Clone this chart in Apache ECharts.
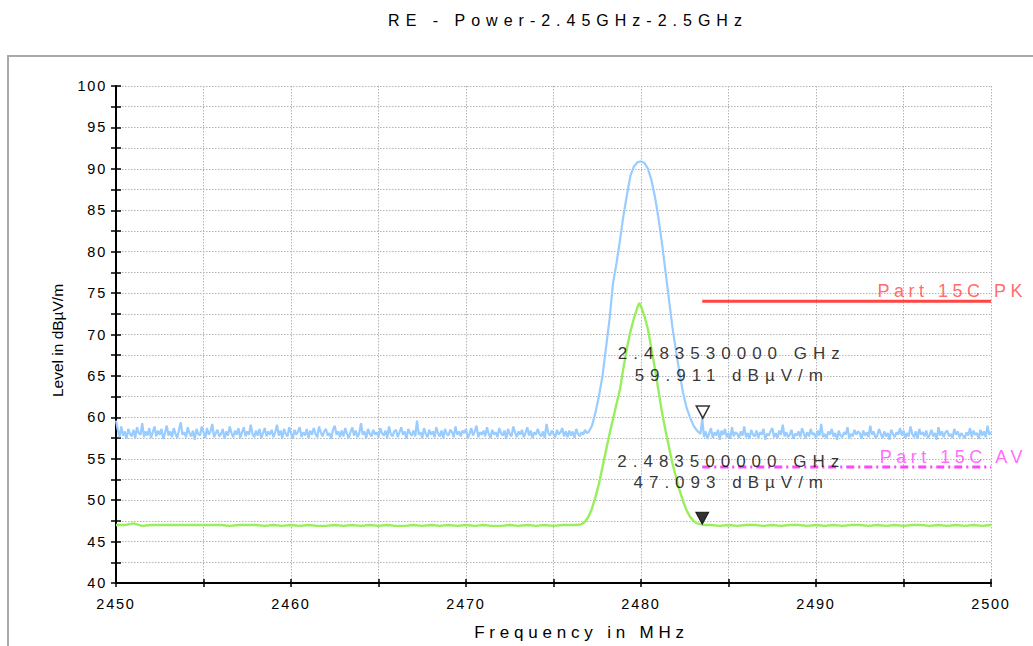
<!DOCTYPE html>
<html><head><meta charset="utf-8">
<script src="https://cdn.jsdelivr.net/npm/echarts@6/dist/echarts.min.js"></script>
<style>html,body{margin:0;padding:0;background:#fff}#chart{width:1033px;height:646px}</style>
</head><body><div id="chart"></div>
<script>
// ---------- texts ----------
const titleText = 'RE - Power-2.45GHz-2.5GHz';
const xName = 'Frequency in MHz';
const yName = 'Level in dBµV/m';
const pkLimitName = 'Part 15C PK';
const avLimitName = 'Part 15C AV';

// ---------- axes ----------
const xMin = 2450, xMax = 2500, xTick = 5, xLabelEvery = 10;
const yMin = 40, yMax = 100, yTick = 2.5, yLabelEvery = 5;

// ---------- peak trace (blue) ----------
const pkStep = 0.1;
const pkLeftStart = 2450.0;
const pkLeft = [
59.6,58.5,57.6,58.9,57.8,58.3,57.4,58.6,58.0,57.7,
58.5,57.5,58.8,58.1,57.9,59.3,57.6,58.3,57.8,58.7,
57.5,58.2,58.9,57.7,58.4,57.9,58.6,57.4,58.1,59.0,
57.8,58.3,57.6,58.7,58.0,57.5,58.5,59.4,57.9,58.2,
57.6,58.8,58.1,57.7,58.4,57.3,58.6,58.0,57.8,58.9,
58.2,57.5,58.7,57.9,58.3,59.2,57.6,58.1,58.5,57.7,
58.0,58.6,57.4,58.3,57.8,58.9,58.1,57.6,58.4,57.9,
58.7,57.5,58.2,58.8,57.7,58.3,57.9,59.1,58.0,57.6,
58.4,57.8,58.6,57.5,58.1,58.7,57.7,58.3,57.9,58.5,
57.6,58.2,59.1,57.8,58.4,57.5,58.6,58.0,57.7,58.8,
58.1,57.4,58.5,57.9,58.3,58.8,57.6,58.2,57.8,58.6,
57.5,58.4,57.9,58.7,58.0,57.6,58.9,58.2,57.7,58.3,
58.6,57.8,58.1,57.4,58.5,59.0,57.9,58.3,57.6,58.4,
57.7,58.7,58.0,57.5,58.2,58.8,57.8,58.4,57.6,58.1,
59.3,57.9,58.3,57.5,58.6,58.0,57.7,58.5,57.9,58.2,
57.6,58.7,58.1,57.8,58.4,57.5,58.9,58.0,57.7,58.3,
58.5,57.6,58.2,58.8,57.9,58.3,57.4,58.6,58.1,57.8,
58.4,57.7,59.6,57.9,58.2,57.5,58.7,58.0,57.6,58.5,
57.9,58.3,57.6,58.8,58.1,57.7,58.4,57.5,58.6,58.0,
57.8,58.5,58.2,57.6,58.9,57.9,58.3,57.7,58.4,58.1,
58.6,57.5,58.0,58.7,57.8,58.3,59.0,57.6,58.2,57.9,
58.4,57.7,58.8,58.0,57.5,58.5,57.9,58.2,57.6,58.7,
58.1,57.8,58.4,57.4,58.6,58.0,57.7,58.9,58.2,57.6,
58.3,57.9,58.5,57.6,58.1,58.8,57.8,58.4,57.5,58.2,
57.9,58.6,58.0,57.7,58.3,57.5,59.2,58.1,57.8,58.4,
58.0,57.6,58.5,57.9,58.2,58.7,57.7,58.3,57.6,58.4,
57.8,58.3,57.5,58.6,58.0,57.7,58.2,57.9,58.5,58.1
];
const pkBell = [
[2477.0,58.2],[2477.2,59.0],[2477.4,60.6],[2477.6,62.6],[2477.8,65.0],[2478.0,68.4],
[2478.2,71.8],[2478.4,76.2],[2478.6,78.6],[2478.8,81.4],[2479.0,84.4],[2479.2,86.9],
[2479.4,89.2],[2479.6,90.3],[2479.8,90.8],[2480.0,90.9],[2480.2,90.7],[2480.4,90.0],
[2480.6,88.6],[2480.8,86.6],[2481.0,84.0],[2481.2,81.0],[2481.4,77.6],[2481.6,74.2],
[2481.8,70.8],[2482.0,68.0],[2482.2,65.4],[2482.4,63.0],[2482.6,61.2],[2482.8,60.0],
[2483.0,59.0],[2483.2,58.4],[2483.4,58.0]
];
const pkRightStart = 2483.5;
const pkRight = [
59.9,57.6,58.3,57.4,58.1,58.7,57.5,58.2,57.8,58.5,
57.3,58.4,57.9,58.6,57.6,58.1,57.4,58.8,57.7,58.2,
58.0,57.5,58.3,57.8,58.9,57.6,58.1,57.4,58.5,57.9,
57.7,58.4,57.5,58.2,57.9,58.6,57.3,58.0,57.8,58.3,
58.7,57.6,58.1,57.5,58.4,57.9,59.1,57.7,58.2,57.6,
57.9,58.5,57.4,58.0,57.8,58.3,57.6,58.7,58.1,57.5,
58.2,57.7,58.6,57.9,58.1,57.4,58.4,57.8,59.2,57.6,
58.0,57.5,58.3,57.9,58.6,57.7,58.1,57.3,58.4,57.8,
57.6,58.2,57.9,58.8,57.5,58.0,57.7,58.5,57.9,58.3,
58.1,57.4,58.4,57.8,58.2,57.6,59.0,57.9,58.3,57.5,
57.8,58.6,58.0,57.5,58.3,57.7,58.1,57.3,58.5,58.0,
57.6,58.2,57.9,58.7,57.8,58.4,57.5,58.1,57.7,58.9,
58.0,57.6,58.3,57.4,58.6,57.9,58.2,57.7,58.4,57.5,
57.9,58.5,57.7,58.1,57.3,58.8,57.8,58.3,57.6,58.2,
58.4,57.7,58.0,57.5,58.6,57.9,58.3,57.6,58.1,57.8,
57.5,58.2,57.8,58.7,57.6,58.4,57.9,58.1,57.4,58.5,
57.8,58.3,57.6,59.0,57.9,58.2
];

// ---------- average trace (green) ----------
const avStep = 0.5;
const avLeftStart = 2450.0;
const avLeft = [
47.0,47.0,47.2,46.9,47.0,47.0,47.0,47.0,47.0,47.0,
47.0,47.0,47.0,46.9,47.0,47.0,47.0,46.9,47.0,46.9,
47.0,46.9,47.0,46.9,46.9,47.0,46.9,47.0,46.9,47.0,
46.9,47.0,46.9,46.9,47.0,46.9,47.0,46.9,47.0,46.9,
47.0,46.9,47.0,46.9,46.9,47.0,46.9,47.0,46.9,47.0,
46.9,47.0,47.0
];
const avBell = [
[2476.4,47.0],[2476.6,47.1],[2476.8,47.4],[2477.0,48.0],[2477.2,49.0],[2477.4,50.4],
[2477.6,52.0],[2477.8,54.0],[2478.0,56.0],[2478.2,58.0],[2478.4,59.8],[2478.6,61.6],
[2478.8,63.4],[2479.0,66.0],[2479.2,68.4],[2479.4,70.4],[2479.6,72.0],[2479.8,73.3],
[2479.9,73.8],[2480.0,73.4],[2480.2,72.2],[2480.4,70.6],[2480.6,68.2],[2480.8,65.8],
[2481.0,63.2],[2481.2,60.6],[2481.4,58.4],[2481.6,56.4],[2481.8,54.4],[2482.0,52.8],
[2482.2,51.2],[2482.4,49.9],[2482.6,48.8],[2482.8,48.0],[2483.0,47.5],[2483.2,47.2],
[2483.4,47.1],[2483.6,47.0]
];
const avRightStart = 2484.0;
const avRight = [
47.0,46.9,47.0,46.9,47.0,47.0,46.9,47.0,46.9,47.0,
47.0,46.9,47.0,46.9,47.0,46.9,47.0,47.0,46.9,47.0,
46.9,47.0,46.9,47.0,47.0,46.9,47.0,46.9,47.0,46.9,
47.0,46.9,47.0
];

// ---------- limits & markers ----------
const pkLimit = 74, avLimit = 54, limitStart = 2483.5, limitEnd = 2500;
const pkMarker = [2483.53, 59.911];
const avMarker = [2483.5, 47.093];

// ---------- build ----------
function onGrid(start, step, vals) { return vals.map((v, i) => [+(start + i * step).toFixed(2), v]); }
const pkData = onGrid(pkLeftStart, pkStep, pkLeft).concat(pkBell, onGrid(pkRightStart, pkStep, pkRight));
const avData = onGrid(avLeftStart, avStep, avLeft).concat(avBell, onGrid(avRightStart, avStep, avRight));
function markerText(m) { return (m[0] / 1000).toFixed(9) + ' GHz\n' + m[1].toFixed(3) + ' dBµV/m'; }

const FONT = '"Liberation Sans", Arial, sans-serif';
const chart = echarts.init(document.getElementById('chart'), null, { renderer: 'svg' });

const gridLine = { show: true, lineStyle: { color: '#b4b4b4', width: 1, type: [1.5, 1.5] } };
const tickStyle = { color: '#000', width: 1.5 };

chart.setOption({
  animation: false,
  backgroundColor: '#fff',
  graphic: [
    { type: 'rect', shape: { x: 8, y: 56, width: 1200, height: 800 }, style: { fill: 'none', stroke: '#a9a9a9', lineWidth: 2 }, silent: true, z: -10 },
    { type: 'text', x: 568, y: 20, style: { text: titleText, font: '16px ' + FONT, fill: '#000', align: 'center', verticalAlign: 'middle' } }
  ],
  grid: { left: 116, right: 42, top: 86, bottom: 62, containLabel: false },
  xAxis: [
    {
      type: 'value', min: xMin, max: xMax, interval: xTick,
      name: xName, nameLocation: 'middle', nameGap: 41,
      nameTextStyle: { fontFamily: FONT, fontSize: 17, color: '#000', padding: [0, 0, 0, 56] },
      axisLine: { show: true, onZero: false, lineStyle: { color: '#000', width: 2 } },
      axisTick: { show: true, length: 4, lineStyle: tickStyle },
      axisLabel: { margin: 13, fontFamily: FONT, fontSize: 14.5, color: '#000',
        formatter: v => (Math.round(v) % xLabelEvery === 0 ? String(v) : '') },
      splitLine: gridLine
    },
    {
      type: 'value', min: xMin, max: xMax, interval: xTick, position: 'bottom',
      axisLine: { show: false }, axisTick: { show: true, inside: true, length: 4, lineStyle: tickStyle },
      axisLabel: { show: false }, splitLine: { show: false }
    }
  ],
  yAxis: [
    {
      type: 'value', min: yMin, max: yMax, interval: yTick,
      name: yName, nameLocation: 'middle', nameGap: 51,
      nameTextStyle: { fontFamily: FONT, fontSize: 15.5, color: '#000', padding: [0, 12, 0, 0] },
      axisLine: { show: true, onZero: false, lineStyle: { color: '#000', width: 2 } },
      axisTick: { show: true, length: 5, lineStyle: tickStyle },
      axisLabel: { margin: 9, fontFamily: FONT, fontSize: 14.5, color: '#000',
        formatter: v => (v % yLabelEvery === 0 ? String(v) : '') },
      splitLine: gridLine
    },
    {
      type: 'value', min: yMin, max: yMax, interval: yTick, position: 'left',
      axisLine: { show: false }, axisTick: { show: true, inside: true, length: 5, lineStyle: tickStyle },
      axisLabel: { show: false }, splitLine: { show: false }
    }
  ],
  series: [
    {
      name: 'PK', type: 'line', data: pkData, showSymbol: false, silent: true,
      lineStyle: { color: '#99CCFF', width: 2.2 }, z: 3
    },
    {
      name: 'AV', type: 'line', data: avData, showSymbol: false, silent: true,
      lineStyle: { color: '#99EE5E', width: 2.4 }, z: 4
    },
    {
      name: pkLimitName, type: 'line', data: [[limitStart, pkLimit], [limitEnd, pkLimit]],
      showSymbol: false, silent: true, lineStyle: { color: '#FF4545', width: 3 }, z: 5
    },
    {
      name: avLimitName, type: 'line', data: [[limitStart, avLimit], [limitEnd, avLimit]],
      showSymbol: false, silent: true, lineStyle: { color: '#FF45FF', width: 3, type: [8, 4, 2, 4] }, z: 5
    },
    {
      name: 'limitLabels', type: 'scatter', symbolSize: 0, silent: true, z: 6,
      data: [
        { value: [limitEnd, pkLimit], label: { show: true, formatter: pkLimitName, color: '#FF4545' } },
        { value: [limitEnd, avLimit], label: { show: true, formatter: avLimitName, color: '#FF45FF' } }
      ],
      label: { position: 'top', align: 'right', offset: [36, 4], fontFamily: FONT, fontSize: 18 }
    },
    {
      name: 'markers', type: 'scatter', silent: true, z: 7,
      symbol: 'path://M0,0 L10,0 L5,9 Z', symbolSize: [13, 12], symbolOffset: [0, -6],
      data: [
        { value: pkMarker, itemStyle: { color: 'rgba(0,0,0,0)', borderColor: '#000', borderWidth: 1.5 },
          label: { show: true, formatter: markerText(pkMarker), lineHeight: 22 } },
        { value: avMarker, itemStyle: { color: '#000', borderColor: '#000', borderWidth: 1 },
          label: { show: true, formatter: markerText(avMarker), lineHeight: 21 } }
      ],
      label: { position: 'top', distance: 19, offset: [29, 0], align: 'center',
        fontFamily: FONT, fontSize: 17, color: '#000' }
    }
  ]
});

// letter spacing as in the reference rendering
function spaceTexts() {
  document.querySelectorAll('#chart text').forEach(t => {
    const s = t.textContent;
    let ls = 0;
    if (s === titleText) ls = 6.0;
    else if (s.indexOf('Part') === 0) ls = 4.5;
    else if (s === xName) ls = 4.8;
    else if (s === yName) ls = 0;
    else if (/GHz|dBµV/.test(s)) ls = 6.0;
    else if (/^\d+$/.test(s)) ls = 1.8;
    if (ls) t.setAttribute('letter-spacing', ls);
  });
}
chart.on('finished', spaceTexts);
setTimeout(spaceTexts, 50);
</script></body></html>
